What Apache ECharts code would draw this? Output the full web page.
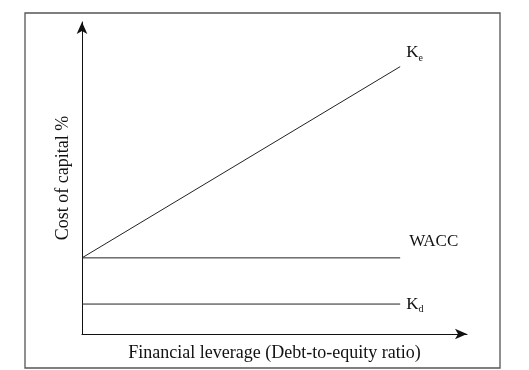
<!DOCTYPE html>
<html><head><meta charset="utf-8">
<script src="https://cdn.jsdelivr.net/npm/echarts@6/dist/echarts.min.js"></script>
<style>html,body{margin:0;padding:0;background:#fff}#c{width:529px;height:370px}</style>
</head><body><div id="c"></div>
<script>
const leverage = [0, 10];
const keValues = [24.4, 85.7];
const waccValues = [24.4, 24.4];
const kdValues = [9.6, 9.6];
const xTitle = 'Financial leverage (Debt-to-equity ratio)';
const yTitle = 'Cost of capital %';

const FONT = 'Liberation Serif';
const chart = echarts.init(document.getElementById('c'), null, {renderer: 'canvas'});
const rich = {
  k: {fontFamily: FONT, fontSize: 17, color: '#111'},
  s: {fontFamily: FONT, fontSize: 10, color: '#111', padding: [11, 0, 0, 0]}
};
function mk(name, vals, label, offset) {
  return {
    name, type: 'line', data: leverage.map((x, i) => [x, vals[i]]),
    symbol: 'none', silent: true,
    lineStyle: {color: '#222', width: 1},
    label: {show: false},
    endLabel: {show: true, formatter: label, rich, fontFamily: FONT, fontSize: 17, color: '#111', offset, distance: 6}
  };
}
chart.setOption({
  animation: false,
  grid: {left: 82, right: 62, top: 22, bottom: 36, containLabel: false, outerBoundsMode: 'none'},
  graphic: [{type: 'rect', shape: {x: 25, y: 13, width: 475, height: 355}, style: {fill: 'none', stroke: '#555', lineWidth: 1.3}}],
  xAxis: {
    type: 'value', min: 0, max: 12.1,
    name: xTitle, nameLocation: 'middle', nameGap: 10,
    nameTextStyle: {fontFamily: FONT, fontSize: 18, color: '#111', verticalAlign: 'top'},
    axisLine: {show: true, onZero: false, symbol: ['none', 'arrow'], symbolSize: [8, 12], lineStyle: {color: '#111', width: 1}},
    axisTick: {show: false}, axisLabel: {show: false}, splitLine: {show: false}
  },
  yAxis: {
    type: 'value', min: 0, max: 100,
    name: yTitle, nameLocation: 'middle', nameGap: 10,
    nameTextStyle: {fontFamily: FONT, fontSize: 18, color: '#111'},
    axisLine: {show: true, onZero: false, symbol: ['none', 'arrow'], symbolSize: [8, 12], lineStyle: {color: '#111', width: 1}},
    axisTick: {show: false}, axisLabel: {show: false}, splitLine: {show: false}
  },
  series: [
    mk('Ke', keValues, '{k|K}{s|e}', [0, -14]),
    mk('WACC', waccValues, '{k|WACC}', [3, -16]),
    mk('Kd', kdValues, '{k|K}{s|d}', [0, 0])
  ]
});
</script></body></html>
